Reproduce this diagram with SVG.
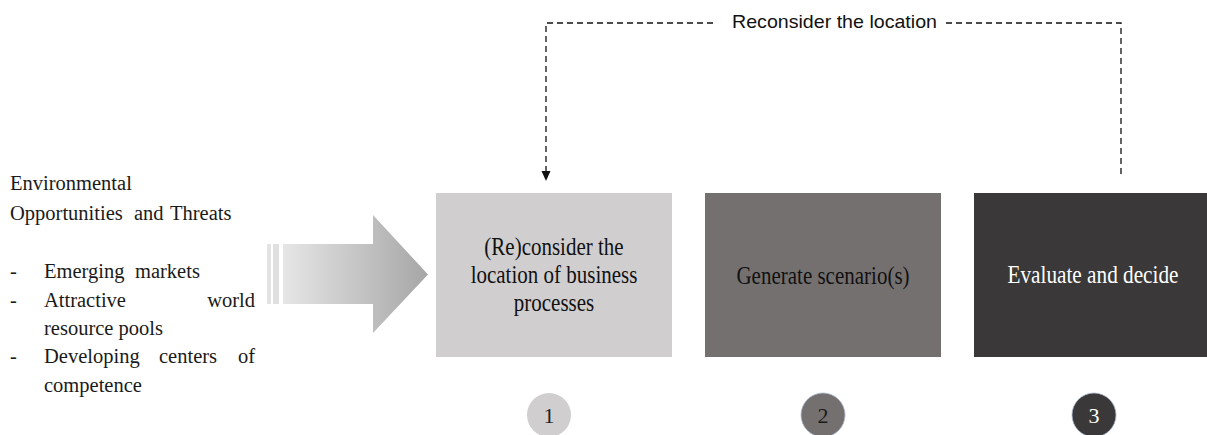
<svg xmlns="http://www.w3.org/2000/svg" width="1207" height="435" viewBox="0 0 1207 435">
<style>
.lt{font-family:"Liberation Serif","Times New Roman",serif;font-size:20.5px;fill:#1a1a1a}
.bt{font-family:"Liberation Serif","Times New Roman",serif;font-size:25px;text-anchor:middle}
.ct{font-family:"Liberation Serif","Times New Roman",serif;font-size:22px;text-anchor:middle}
.dash{fill:none;stroke:#111;stroke-width:1.3;stroke-dasharray:6 4}
.lab{font-family:"Liberation Sans",Arial,sans-serif;font-size:19px;fill:#111}
</style>
<defs>
<linearGradient id="ag" x1="0" y1="0" x2="1" y2="0">
<stop offset="0" stop-color="#e6e6e6"/>
<stop offset="1" stop-color="#a6a6a6"/>
</linearGradient>
</defs>
<rect width="1207" height="435" fill="#ffffff"/>

<g id="environment">
<text class="lt" x="10" y="190">Environmental</text>
<text class="lt" y="220"><tspan x="10">Opportunities</tspan><tspan x="134">and</tspan><tspan x="170">Threats</tspan></text>
<text class="lt" x="10" y="278">-</text>
<text class="lt" y="278"><tspan x="44">Emerging</tspan><tspan x="135">markets</tspan></text>
<text class="lt" x="10" y="307">-</text>
<text class="lt" x="44" y="307">Attractive</text>
<text class="lt" x="255" y="307" text-anchor="end">world</text>
<text class="lt" x="44" y="335">resource pools</text>
<text class="lt" x="10" y="363">-</text>
<text class="lt" x="44" y="363">Developing</text>
<text class="lt" x="159" y="363">centers</text>
<text class="lt" x="255" y="363" text-anchor="end">of</text>
<text class="lt" x="44" y="392">competence</text>
</g>

<g id="big-arrow">
<rect x="267" y="244" width="4" height="60" fill="#e3e3e3"/>
<rect x="273" y="244" width="6" height="60" fill="#e0e0e0"/>
<polygon points="283,244 373,244 373,215 428,274.5 373,333 373,304 283,304" fill="url(#ag)"/>
</g>

<g id="step1">
<rect x="436" y="193" width="236" height="164" fill="#d0cecf"/>
<g transform="translate(554,0) scale(0.84,1)">
<text class="bt" x="0" y="255" fill="#111">(Re)consider the</text>
<text class="bt" x="0" y="283" fill="#111">location of business</text>
<text class="bt" x="0" y="311" fill="#111">processes</text>
</g>
<circle cx="549" cy="415" r="22" fill="#d0cecf"/>
<text class="ct" x="549" y="423" fill="#222">1</text>
</g>

<g id="step2">
<rect x="705" y="193" width="236" height="164" fill="#757070"/>
<g transform="translate(823,0) scale(0.84,1)">
<text class="bt" x="0" y="284" fill="#111">Generate scenario(s)</text>
</g>
<circle cx="823" cy="415" r="22" fill="#757070" stroke="#a9b8cf" stroke-width="0.8"/>
<text class="ct" x="823" y="423" fill="#1a1a1a">2</text>
</g>

<g id="step3">
<rect x="974" y="193" width="236" height="164" fill="#3a3838"/>
<g transform="translate(1093,0) scale(0.85,1)">
<text class="bt" x="0" y="283" fill="#ffffff">Evaluate and decide</text>
</g>
<circle cx="1094" cy="415" r="22" fill="#3a3838" stroke="#a9b8cf" stroke-width="0.8"/>
<text class="ct" x="1094" y="423" fill="#ffffff">3</text>
</g>

<g id="connectors">
<path class="dash" d="M546,172 V23 H717"/>
<path class="dash" d="M946,23 H1121 V177"/>
<polygon points="541.5,171 550.5,171 546,181" fill="#111"/>
<text class="lab" x="732" y="28" textLength="205" lengthAdjust="spacingAndGlyphs">Reconsider the location</text>
</g>
</svg>
